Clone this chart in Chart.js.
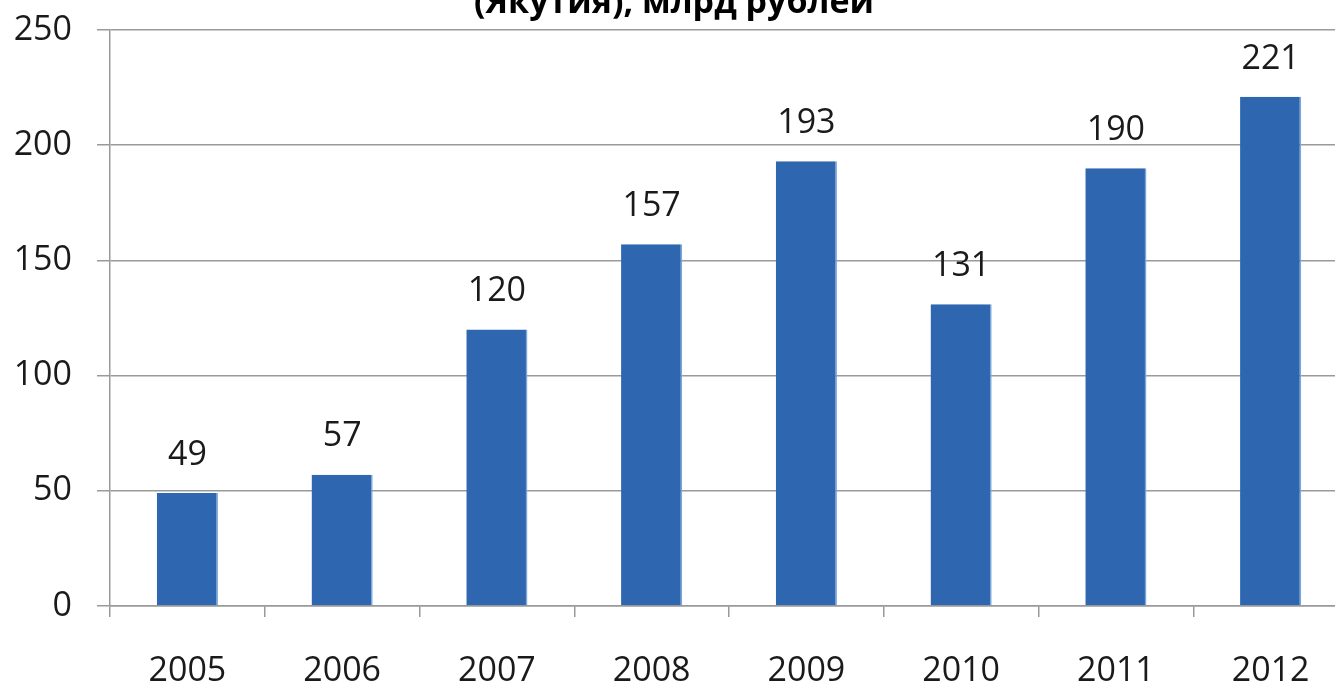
<!DOCTYPE html>
<html>
<head>
<meta charset="utf-8">
<script src="https://cdn.jsdelivr.net/npm/chart.js@4/dist/chart.umd.min.js"></script>
<style>
  html, body { margin: 0; padding: 0; background: #ffffff; overflow: hidden; }
  #wrap { width: 1348px; height: 701px; position: absolute; left: 0; top: -17px; }
</style>
</head>
<body>
<div id="wrap"><canvas id="c"></canvas></div>
<script>
const categories = ['2005', '2006', '2007', '2008', '2009', '2010', '2011', '2012'];
const values = [49, 57, 120, 157, 193, 131, 190, 221];
const titleText = '(Якутия), млрд рублей';
const yMin = 0, yMax = 250, yStep = 50;

const valueLabels = {
  id: 'valueLabels',
  afterDatasetsDraw(chart) {
    const ctx = chart.ctx;
    const meta = chart.getDatasetMeta(0);
    ctx.save();
    ctx.font = '34px "Open Sans"';
    ctx.fillStyle = '#1a1a1a';
    ctx.textAlign = 'center';
    ctx.textBaseline = 'middle';
    meta.data.forEach((bar, i) => {
      ctx.fillText(String(values[i]), bar.x, bar.y - 38);
    });
    ctx.restore();
  }
};

new Chart(document.getElementById('c'), {
  type: 'bar',
  data: {
    labels: categories,
    datasets: [{
      data: values,
      backgroundColor: '#2e67b0',
      borderColor: '#7aa6dc',
      borderWidth: { top: 0, right: 1.5, bottom: 0, left: 0 },
      borderSkipped: false,
      barPercentage: 0.395,
      categoryPercentage: 1.0
    }]
  },
  options: {
    responsive: true,
    maintainAspectRatio: false,
    animation: false,
    layout: { padding: 0 },
    plugins: {
      legend: { display: false },
      tooltip: { enabled: false },
      title: {
        display: true,
        text: titleText,
        color: '#000000',
        font: { family: 'Open Sans', weight: 'bold', size: 34 },
        padding: { top: 0, bottom: 6.2 }
      }
    },
    scales: {
      x: {
        offset: true,
        grid: {
          display: true,
          offset: true,
          drawOnChartArea: false,
          drawTicks: true,
          tickLength: 11,
          color: '#9a9a9a',
          lineWidth: 1.5
        },
        border: { display: true, color: '#9a9a9a', width: 1.5 },
        ticks: {
          color: '#1a1a1a',
          font: { family: 'Open Sans', size: 34 },
          padding: 34,
          maxRotation: 0,
          autoSkip: false
        },
        afterFit(scale) { scale.height = 78; }
      },
      y: {
        min: yMin,
        max: yMax,
        grid: {
          color: '#9a9a9a',
          lineWidth: 1.5,
          drawTicks: true,
          tickLength: 13
        },
        border: { display: true, color: '#9a9a9a', width: 1.5 },
        ticks: {
          stepSize: yStep,
          color: '#1a1a1a',
          font: { family: 'Open Sans', size: 34 },
          padding: 25
        },
        afterFit(scale) { scale.width = 110; }
      }
    }
  },
  plugins: [valueLabels]
});
</script>
</body>
</html>
